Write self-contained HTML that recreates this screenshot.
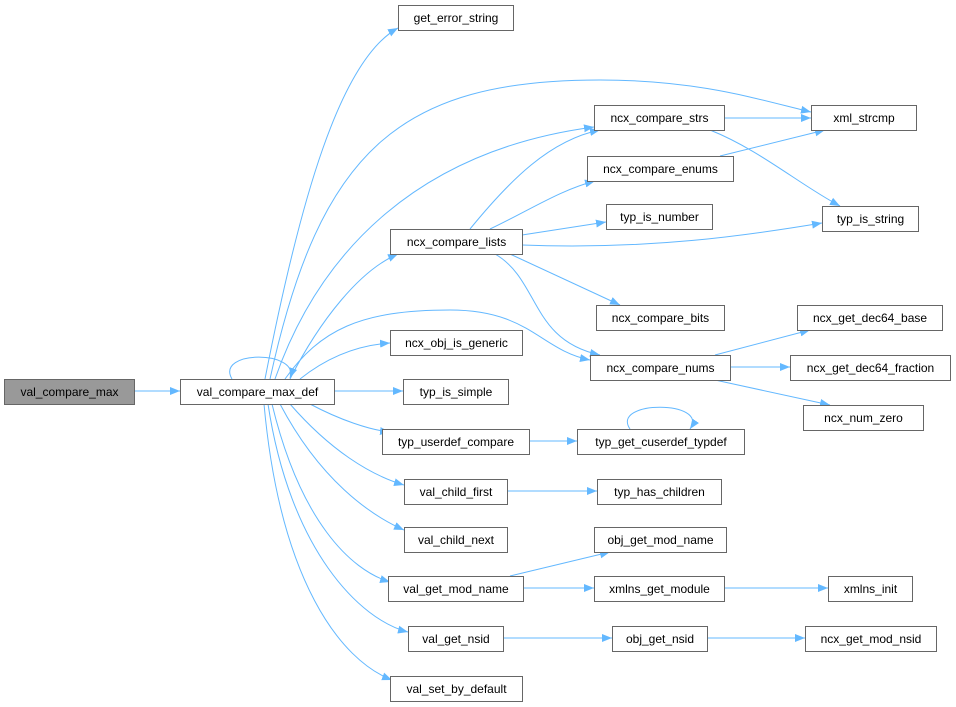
<!DOCTYPE html>
<html><head><meta charset="utf-8"><style>
html,body{margin:0;padding:0;background:#fff;}
svg{display:block;}
text{font-family:"Liberation Sans",Arial,sans-serif;font-size:12px;fill:#000;}
</style></head><body>
<svg width="956" height="707" viewBox="0 0 956 707" xmlns="http://www.w3.org/2000/svg">
<defs>
<marker id="a" viewBox="0 0 10 10" refX="10" refY="5" markerWidth="10" markerHeight="10" markerUnits="userSpaceOnUse" orient="auto">
<path d="M0,1 L10,5 L0,9 Z" fill="#63b8ff"/>
</marker>
</defs>
<g fill="none" stroke="#63b8ff" stroke-width="1" marker-end="url(#a)">
<path d="M134,391 L180,391"/>
<path d="M265,379 C300,200 340,60 398,28"/>
<path d="M270,379 C320,150 400,80 600,80 C700,80 760,100 811,112"/>
<path d="M275,379 C320,250 420,150 594,127"/>
<path d="M290,379 C320,320 360,270 398,254"/>
<path d="M285,379 C320,330 360,310 450,310 C530,310 540,350 590,360"/>
<path d="M300,379 C330,355 360,345 390,343"/>
<path d="M334,391 L403,391"/>
<path d="M310,404 C340,420 370,430 390,432"/>
<path d="M290,404 C330,450 370,475 404,485"/>
<path d="M280,404 C320,480 370,515 404,530"/>
<path d="M272,404 C300,520 350,570 390,582"/>
<path d="M268,404 C290,550 360,620 408,632"/>
<path d="M264,404 C280,580 340,660 392,680"/>
<path d="M232,379 C215,350 300,350 290,378"/>
<path d="M470,229 C510,180 550,140 600,130"/>
<path d="M490,229 C530,210 560,190 595,181"/>
<path d="M522,235 L606,222"/>
<path d="M522,245 C650,250 750,235 822,223"/>
<path d="M510,254 L620,305"/>
<path d="M495,254 C540,280 530,340 600,355"/>
<path d="M724,118 L811,118"/>
<path d="M710,130 C760,150 800,185 840,206"/>
<path d="M720,156 L825,130"/>
<path d="M715,355 L810,330"/>
<path d="M730,367 L790,367"/>
<path d="M715,380 L830,405"/>
<path d="M529,441 L577,441"/>
<path d="M630,429 C610,400 710,400 690,429"/>
<path d="M507,491 L597,491"/>
<path d="M510,576 L610,552"/>
<path d="M523,588 L594,588"/>
<path d="M724,588 L828,588"/>
<path d="M503,638 L612,638"/>
<path d="M707,638 L805,638"/>
</g>
<g stroke="#666" stroke-width="1" fill="#fff">
<rect x="4.5" y="379.5" width="130" height="25" fill="#999"/>
<rect x="180.5" y="379.5" width="154" height="25"/>
<rect x="398.5" y="5.5" width="115" height="25"/>
<rect x="811.5" y="105.5" width="105" height="25"/>
<rect x="594.5" y="105.5" width="130" height="25"/>
<rect x="587.5" y="156.5" width="146" height="25"/>
<rect x="822.5" y="206.5" width="96" height="25"/>
<rect x="606.5" y="204.5" width="106" height="25"/>
<rect x="390.5" y="229.5" width="132" height="25"/>
<rect x="596.5" y="305.5" width="128" height="25"/>
<rect x="797.5" y="305.5" width="145" height="25"/>
<rect x="390.5" y="330.5" width="132" height="25"/>
<rect x="590.5" y="355.5" width="140" height="25"/>
<rect x="790.5" y="355.5" width="160" height="25"/>
<rect x="403.5" y="379.5" width="105" height="25"/>
<rect x="803.5" y="405.5" width="120" height="25"/>
<rect x="382.5" y="429.5" width="147" height="25"/>
<rect x="577.5" y="429.5" width="167" height="25"/>
<rect x="404.5" y="479.5" width="103" height="25"/>
<rect x="597.5" y="479.5" width="124" height="25"/>
<rect x="404.5" y="527.5" width="103" height="25"/>
<rect x="594.5" y="527.5" width="132" height="25"/>
<rect x="388.5" y="576.5" width="135" height="25"/>
<rect x="594.5" y="576.5" width="130" height="25"/>
<rect x="828.5" y="576.5" width="84" height="25"/>
<rect x="408.5" y="626.5" width="95" height="25"/>
<rect x="612.5" y="626.5" width="95" height="25"/>
<rect x="805.5" y="626.5" width="131" height="25"/>
<rect x="390.5" y="676.5" width="132" height="25"/>
</g>
<g text-anchor="middle">
<text x="69.5" y="396">val_compare_max</text>
<text x="257.5" y="396">val_compare_max_def</text>
<text x="456" y="22">get_error_string</text>
<text x="864" y="122">xml_strcmp</text>
<text x="659.5" y="122">ncx_compare_strs</text>
<text x="660.5" y="173">ncx_compare_enums</text>
<text x="870.5" y="223">typ_is_string</text>
<text x="659.5" y="221">typ_is_number</text>
<text x="456.5" y="246">ncx_compare_lists</text>
<text x="660.5" y="322">ncx_compare_bits</text>
<text x="870" y="322">ncx_get_dec64_base</text>
<text x="456.5" y="347">ncx_obj_is_generic</text>
<text x="660.5" y="372">ncx_compare_nums</text>
<text x="870.5" y="372">ncx_get_dec64_fraction</text>
<text x="456" y="396">typ_is_simple</text>
<text x="863.5" y="422">ncx_num_zero</text>
<text x="456" y="446">typ_userdef_compare</text>
<text x="661" y="446">typ_get_cuserdef_typdef</text>
<text x="456" y="496">val_child_first</text>
<text x="659.5" y="496">typ_has_children</text>
<text x="456" y="544">val_child_next</text>
<text x="660.5" y="544">obj_get_mod_name</text>
<text x="456" y="593">val_get_mod_name</text>
<text x="659.5" y="593">xmlns_get_module</text>
<text x="870.5" y="593">xmlns_init</text>
<text x="456" y="643">val_get_nsid</text>
<text x="660" y="643">obj_get_nsid</text>
<text x="871" y="643">ncx_get_mod_nsid</text>
<text x="456.5" y="693">val_set_by_default</text>
</g>
</svg>
</body></html>
